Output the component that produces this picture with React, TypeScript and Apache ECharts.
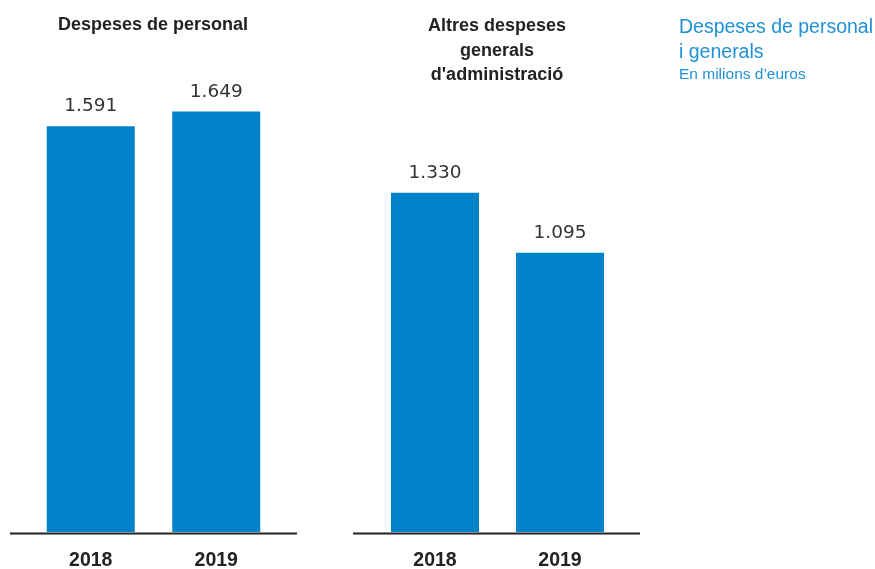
import React, { useEffect, useRef } from "react";
import * as echarts from "echarts";

const years = ["2018", "2019"];
const personal = [1591, 1649];
const altres = [1330, 1095];
const panelTitles = ["Despeses de personal", "Altres despeses\ngenerals\nd'administració"];
const sideTitle = "Despeses de personal\ni generals";
const sideSubtitle = "En milions d\u2019euros";

const BAR = "#0082CA";
const DARK = "#222222";
const BLUE = "#1E90D6";
const FONT = "'Liberation Sans', Arial, sans-serif";
const NUMFONT = "'DejaVu Sans', sans-serif";

export default function App() {
  const ref = useRef<HTMLDivElement>(null);
  useEffect(() => {
    const chart = echarts.init(ref.current!, null, { renderer: "svg" });
    const fmt = (p: any) => (p.value / 1000).toFixed(3);
    const mkX = (i: number) => ({
      type: "category" as const,
      gridIndex: i,
      data: years,
      axisLine: { show: false },
      axisTick: { show: false },
      axisLabel: { color: DARK, fontSize: 19.5, fontWeight: "bold" as const, fontFamily: FONT, margin: 17 },
    });
    const mkY = (i: number) => ({
      type: "value" as const,
      gridIndex: i,
      min: 0,
      max: 1800,
      show: false,
      splitLine: { show: false },
    });
    const mkS = (i: number, data: number[]) => ({
      type: "bar" as const,
      xAxisIndex: i,
      yAxisIndex: i,
      data,
      barWidth: 88,
      itemStyle: { color: BAR },
      label: {
        show: true,
        position: "top" as const,
        distance: 12,
        formatter: fmt,
        color: "#333",
        fontSize: 18.5,
        fontFamily: NUMFONT,
      },
    });
    chart.setOption({
      animation: false,
      grid: [
        { left: 28, width: 251, top: 73, bottom: 36 },
        { left: 372.5, width: 250, top: 73, bottom: 36 },
      ],
      xAxis: [mkX(0), mkX(1)],
      yAxis: [mkY(0), mkY(1)],
      series: [mkS(0, personal), mkS(1, altres)],
      graphic: [
        { type: "line", shape: { x1: 10, y1: 533.5, x2: 297, y2: 533.5 }, style: { stroke: DARK, lineWidth: 2 } },
        { type: "line", shape: { x1: 353, y1: 533.5, x2: 640, y2: 533.5 }, style: { stroke: DARK, lineWidth: 2 } },
        {
          type: "text", x: 153, y: 15,
          style: { text: panelTitles[0], fill: DARK, font: `bold 18px ${FONT}`, textAlign: "center" },
        },
        {
          type: "text", x: 497, y: 13,
          style: { text: panelTitles[1], fill: DARK, font: `bold 18px ${FONT}`, textAlign: "center", lineHeight: 24.5 },
        },
        {
          type: "text", x: 679, y: 13,
          style: { text: sideTitle, fill: BLUE, font: `19.5px ${FONT}`, lineHeight: 25 },
        },
        {
          type: "text", x: 679, y: 65,
          style: { text: sideSubtitle, fill: BLUE, font: `15.5px ${FONT}` },
        },
      ],
    });
    return () => chart.dispose();
  }, []);
  return <div ref={ref} style={{ position: "fixed", left: 0, top: 0, width: 875, height: 569 }} />;
}
